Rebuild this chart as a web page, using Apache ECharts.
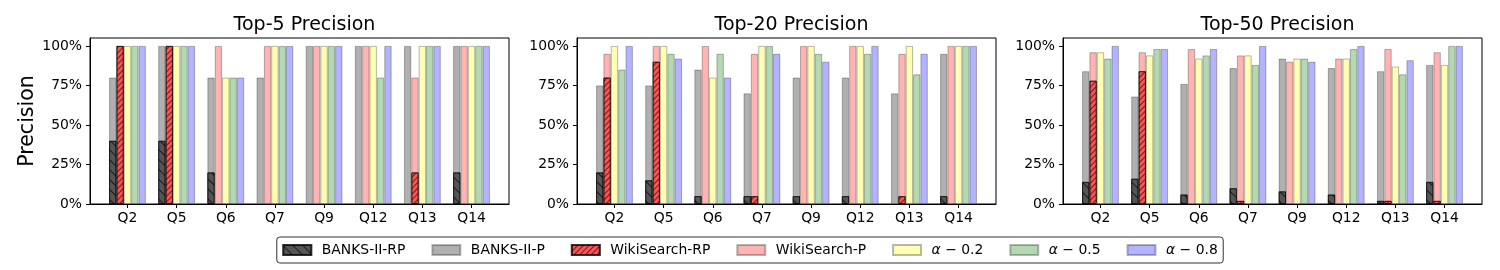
<!DOCTYPE html>
<html>
<head>
<meta charset="utf-8">
<script src="https://cdn.jsdelivr.net/npm/echarts@6/dist/echarts.min.js"></script>
<style>
html,body{margin:0;padding:0;background:#fff;}
#chart{width:1500px;height:270px;}
</style>
</head>
<body>
<div id="chart"></div>
<script>
const categories = ['Q2','Q5','Q6','Q7','Q9','Q12','Q13','Q14'];
const panelTitles = ['Top-5 Precision','Top-20 Precision','Top-50 Precision'];
const seriesNames = ['BANKS-II-RP','BANKS-II-P','WikiSearch-RP','WikiSearch-P','α-0.2','α-0.5','α-0.8'];
const yTickValues = [0,25,50,75,100];

// Top-5
const top5BanksRP = [40,40,20,0,0,0,0,20];
const top5BanksP  = [80,100,80,80,100,100,100,100];
const top5WikiRP  = [100,100,0,0,0,0,20,0];
const top5WikiP   = [100,100,100,100,100,100,80,100];
const top5A02     = [100,100,80,100,100,100,100,100];
const top5A05     = [100,100,80,100,100,80,100,100];
const top5A08     = [100,100,80,100,100,100,100,100];

// Top-20
const top20BanksRP = [20,15,5,5,5,5,0,5];
const top20BanksP  = [75,75,85,70,80,80,70,95];
const top20WikiRP  = [80,90,0,5,0,0,5,0];
const top20WikiP   = [95,100,100,95,100,100,95,100];
const top20A02     = [100,100,80,100,100,100,100,100];
const top20A05     = [85,95,95,100,95,95,82,100];
const top20A08     = [100,92,80,95,90,100,95,100];

// Top-50
const top50BanksRP = [14,16,6,10,8,6,2,14];
const top50BanksP  = [84,68,76,86,92,86,84,88];
const top50WikiRP  = [78,84,0,2,0,0,2,2];
const top50WikiP   = [96,96,98,94,90,92,98,96];
const top50A02     = [96,94,92,94,92,92,87,88];
const top50A05     = [92,98,94,88,92,98,82,100];
const top50A08     = [100,98,98,100,90,100,91,100];

const panels = [
  {banksRP: top5BanksRP, banksP: top5BanksP, wikiRP: top5WikiRP, wikiP: top5WikiP, a02: top5A02, a05: top5A05, a08: top5A08},
  {banksRP: top20BanksRP, banksP: top20BanksP, wikiRP: top20WikiRP, wikiP: top20WikiP, a02: top20A02, a05: top20A05, a08: top20A08},
  {banksRP: top50BanksRP, banksP: top50BanksP, wikiRP: top50WikiRP, wikiP: top50WikiP, a02: top50A02, a05: top50A05, a08: top50A08}
];

const FONT = 'DejaVu Sans';
const panelLeft = [90, 577, 1063];
const panelWidth = 419;
const gridTop = 38, gridHeight = 166;
const inset = 12.9;
const barW = 7.37;
const edge = 'rgba(0,0,0,0.28)';

const styles = {
  'BANKS-II-RP': {color:'#555555', borderColor:'rgba(0,0,0,0.55)', borderWidth:1,
    decal:{symbol:'rect', symbolSize:1, color:'rgba(0,0,0,0.7)', dashArrayX:[1,0], dashArrayY:[1,5.4], rotation:Math.PI/4}},
  'BANKS-II-P': {color:'#b0b0b0', borderColor:edge, borderWidth:1},
  'WikiSearch-RP': {color:'#ff5252', borderColor:'rgba(0,0,0,0.55)', borderWidth:1,
    decal:{symbol:'rect', symbolSize:1, color:'rgba(0,0,0,0.6)', dashArrayX:[1,0], dashArrayY:[1,2.6], rotation:-Math.PI/4}},
  'WikiSearch-P': {color:'#ffb3b3', borderColor:edge, borderWidth:1},
  'α-0.2': {color:'#ffffb3', borderColor:edge, borderWidth:1},
  'α-0.5': {color:'#b3d9b3', borderColor:edge, borderWidth:1},
  'α-0.8': {color:'#b3b3ff', borderColor:edge, borderWidth:1}
};

const grid = [], xAxis = [], yAxis = [], series = [], title = [];
for (let p = 0; p < 3; p++) {
  grid.push({left: panelLeft[p], top: gridTop, width: panelWidth, height: gridHeight,
    show: true, borderColor: '#000', borderWidth: 1, backgroundColor: 'transparent'});
  title.push({text: panelTitles[p], left: panelLeft[p] + panelWidth/2, top: 11, textAlign: 'center',
    textStyle: {fontFamily: FONT, fontSize: 19, fontWeight: 'normal', color: '#000'}});
}
for (let p = 0; p < 3; p++) {
  grid.push({left: panelLeft[p] + inset, top: gridTop, width: panelWidth - 2*inset, height: gridHeight});
}
// frame axes
for (let p = 0; p < 3; p++) {
  xAxis.push({gridIndex: p, type: 'value', min: 0, max: 1, z: 10,
    axisLine: {show: true, lineStyle: {color: '#000', width: 1}},
    axisTick: {show: false}, axisLabel: {show: false}, splitLine: {show: false}});
  const y = {gridIndex: p, type: 'value', min: 0, max: 105, z: 10,
    axisLine: {show: true, lineStyle: {color: '#000', width: 1}},
    axisTick: {show: true, length: 4, inside: false, customValues: yTickValues, lineStyle: {color: '#000'}},
    axisLabel: {show: true, customValues: yTickValues, formatter: '{value}%', color: '#000',
      fontFamily: FONT, fontSize: 13.9, margin: 8},
    splitLine: {show: false}};
  if (p === 0) {
    y.name = 'Precision';
    y.nameLocation = 'middle';
    y.nameGap = 52;
    y.nameTextStyle = {fontFamily: FONT, fontSize: 20.5, color: '#000'};
  }
  yAxis.push(y);
}
// data axes
for (let p = 0; p < 3; p++) {
  xAxis.push({gridIndex: 3 + p, type: 'category', data: categories, boundaryGap: true,
    axisLine: {show: false},
    axisTick: {show: true, alignWithLabel: true, length: 4, lineStyle: {color: '#000'}},
    axisLabel: {color: '#000', fontFamily: FONT, fontSize: 13.9, margin: 7},
    splitLine: {show: false}});
  yAxis.push({gridIndex: 3 + p, type: 'value', min: 0, max: 105, show: false, splitLine: {show: false}});
}
for (let p = 0; p < 3; p++) {
  xAxis.push({gridIndex: 3 + p, type: 'category', data: categories, boundaryGap: true, show: false});
}

function items(data) {
  // zero-height bars get no outline (matplotlib shows nothing visible there)
  return data.map(v => v === 0 ? {value: 0, itemStyle: {borderWidth: 0, opacity: 0}} : v);
}
function bar(name, data, xi, yi) {
  return {name: name, type: 'bar', data: items(data), xAxisIndex: xi, yAxisIndex: yi,
    barWidth: barW, barGap: 0, itemStyle: styles[name], emphasis: {disabled: true}, silent: true};
}
for (let p = 0; p < 3; p++) {
  const d = panels[p];
  const xm = 3 + p, xo = 6 + p, yi = 3 + p;
  series.push(bar('BANKS-II-P', d.banksP, xm, yi));
  series.push(bar('WikiSearch-P', d.wikiP, xm, yi));
  series.push(bar('α-0.2', d.a02, xm, yi));
  series.push(bar('α-0.5', d.a05, xm, yi));
  series.push(bar('α-0.8', d.a08, xm, yi));
  series.push(bar('BANKS-II-RP', d.banksRP, xo, yi));
  series.push(bar('WikiSearch-RP', d.wikiRP, xo, yi));
  for (let k = 0; k < 3; k++) {
    series.push({name: '_slot' + k, type: 'bar', data: [], xAxisIndex: xo, yAxisIndex: yi,
      barWidth: barW, barGap: 0, silent: true});
  }
}

const option = {
  animation: false,
  title: title,
  grid: grid,
  xAxis: xAxis,
  yAxis: yAxis,
  series: series,
  legend: {
    data: seriesNames,
    left: 'center', top: 237,
    orient: 'horizontal',
    itemWidth: 28, itemHeight: 10, itemGap: 26,
    padding: [6, 5.5],
    borderColor: '#333', borderWidth: 1, borderRadius: 3,
    icon: 'rect',
    selectedMode: false,
    textStyle: {fontFamily: FONT, fontSize: 13.9, color: '#000', padding: [0, 0, 0, 5.5], lineHeight: 14,
      rich: {a: {fontFamily: FONT, fontStyle: 'italic', fontSize: 13.9, color: '#000'},
             n: {fontFamily: FONT, fontSize: 13.9, color: '#000'}}},
    formatter: function (name) {
      if (name.charAt(0) === 'α') {
        return '{a|α}{n| − ' + name.slice(2) + '}';
      }
      return name;
    }
  }
};

const chart = echarts.init(document.getElementById('chart'), null, {renderer: 'canvas'});
chart.setOption(option);
</script>
</body>
</html>
